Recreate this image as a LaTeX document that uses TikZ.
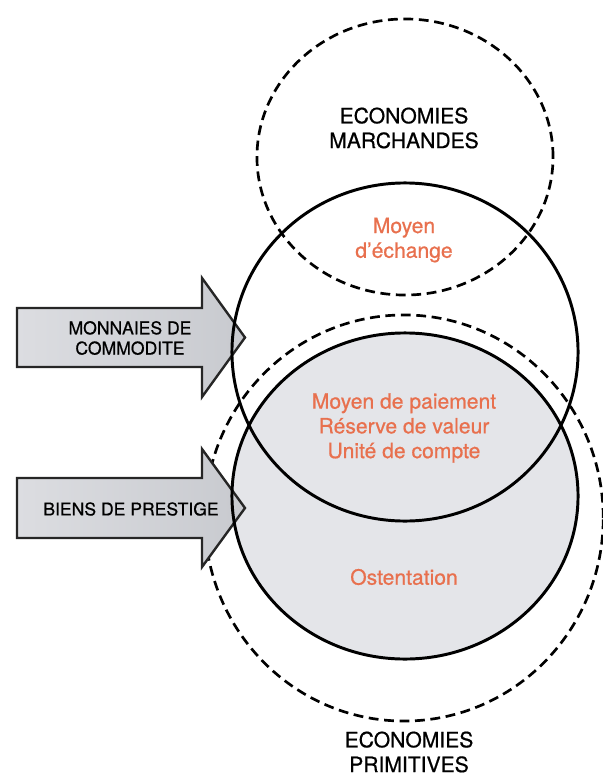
\documentclass[tikz,border=0pt]{standalone}
\usepackage{fontspec}
\setmainfont[FakeBold=0.7]{TeX Gyre Heros}
\usepackage{xcolor}
\usepackage{tikz}
\definecolor{labelorange}{RGB}{232,112,78}
\definecolor{discgrey}{RGB}{228,229,233}
\definecolor{arrowlight}{RGB}{220,221,225}
\definecolor{arrowdark}{RGB}{200,202,207}

\begin{document}
\begin{tikzpicture}[x=0.025cm, y=-0.025cm,
        solidring/.style = {draw=black, line width=2.1pt},
        dashring/.style = {draw=black, line width=1.9pt, dash pattern=on 7pt off 4pt},
        blockarrow/.style = {draw=black!85, line width=1.7pt, left color=arrowlight, right color=arrowdark, line join=miter},
        biglabel/.style = {align=center, inner sep=0pt, font=\fontsize{15}{17.6}\selectfont},
        rolelabel/.style = {biglabel, text=labelorange},
        arrowlabel/.style = {align=center, inner sep=0pt, font=\fontsize{12.5}{14.4}\selectfont}]
        \useasboundingbox (0,0) rectangle (603,776);
        % centres of the four rings
        \coordinate (marchandes) at (405,157);
        \coordinate (echange) at (405,352);
        \coordinate (prestige) at (405,496);
        \coordinate (primitives) at (404,518);
        % rings
        \fill[discgrey] (prestige) ellipse [x radius=4.325cm, y radius=4.075cm];
        \draw[dashring] (marchandes) ellipse [x radius=3.7cm, y radius=3.45cm];
        \draw[dashring] (primitives) ellipse [x radius=4.98cm, y radius=5.075cm];
        % block arrows
        \draw[blockarrow] (17,308) -- (202,308) -- (202,278) -- (245,337.5) -- (202,397) -- (202,367) -- (17,367) -- cycle;
        \draw[blockarrow] (17,478) -- (202,478) -- (202,449) -- (245,508) -- (202,567) -- (202,538) -- (17,538) -- cycle;
        \draw[solidring] (echange) ellipse [x radius=4.325cm, y radius=4.225cm];
        \draw[solidring] (prestige) ellipse [x radius=4.325cm, y radius=4.075cm];
        % labels
        \node[biglabel] (1) at (404,128) {ECONOMIES\\MARCHANDES};
        \node[rolelabel] (2) at (404,240) {Moyen\\d'échange};
        \node[rolelabel] (3) at (404,428) {Moyen de paiement\\Réserve de valeur\\Unité de compte};
        \node[rolelabel] (4) at (404,577) {Ostentation};
        \node[biglabel] (5) at (409,752) {ECONOMIES\\PRIMITIVES};
        \node[arrowlabel] (6) at (130,338) {MONNAIES DE\\COMMODITE};
        \node[arrowlabel] (7) at (131,509) {BIENS DE PRESTIGE};
    \end{tikzpicture}
\end{document}
